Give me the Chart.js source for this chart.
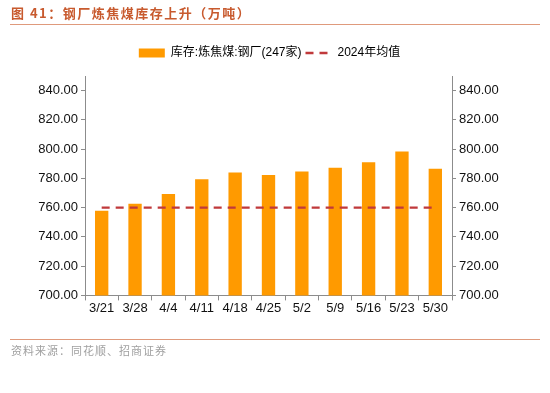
<!DOCTYPE html>
<html><head><meta charset="utf-8">
<script src="https://cdn.jsdelivr.net/npm/chart.js@4.4.1/dist/chart.umd.min.js"></script>
<style>
html,body{margin:0;padding:0;background:#fff;width:550px;height:393px;overflow:hidden;}
#wrap{position:absolute;left:0;top:0;width:550px;height:393px;}
#title{position:absolute;left:11px;top:3px;font-family:"Noto Sans CJK SC";font-weight:bold;font-size:13px;color:#C85A2E;letter-spacing:1.5px;}
#tline{position:absolute;left:10px;top:24px;width:530px;height:0;border-top:1.5px solid #DF9A7C;}
#fline{position:absolute;left:10px;top:339px;width:530px;height:0;border-top:1.5px solid #DF9A7C;}
#src{position:absolute;left:11px;top:342px;font-family:"Noto Sans CJK SC";font-size:11px;color:#a0a0a0;letter-spacing:1px;}
</style></head>
<body>
<div id="wrap"><canvas id="c" width="550" height="393"></canvas></div>
<div id="title">图 41：钢厂炼焦煤库存上升（万吨）</div>
<div id="tline"></div>
<div id="fline"></div>
<div id="src">资料来源：同花顺、招商证券</div>
<script>
const categories = ["3/21","3/28","4/4","4/11","4/18","4/25","5/2","5/9","5/16","5/23","5/30"];
const inventory = [757.8, 762.6, 769.4, 779.4, 784.1, 782.3, 784.7, 787.2, 791.1, 798.4, 786.6];
const avg2024 = [760, 760, 760, 760, 760, 760, 760, 760, 760, 760, 760];
const seriesNames = ["库存:炼焦煤:钢厂(247家)", "2024年均值"];
const yTicks = [700, 720, 740, 760, 780, 800, 820, 840];

const tickFont = {family: "Liberation Sans, Arial", size: 13};
const axisColor = "#8c8c8c";
function yAxis(pos){
  return {
    type: "linear", position: pos, min: 700, max: 850,
    afterBuildTicks: (s) => { s.ticks = yTicks.map(v => ({value: v})); },
    afterFit: (s) => { s.width = pos === "left" ? 50 : 52; },
    ticks: {font: tickFont, color: "#111", padding: 3, callback: v => Number(v).toFixed(2)},
    grid: {drawOnChartArea: false, drawTicks: true, tickLength: 4, color: axisColor},
    border: {display: true, color: axisColor, width: 1}
  };
}
const legendSpacer = {
  id: "legendSpacer",
  beforeInit(chart) {
    const origFit = chart.legend.fit;
    chart.legend.fit = function() { origFit.call(this); this.height += 7; };
  }
};
new Chart(document.getElementById("c"), {
  plugins: [legendSpacer],
  data: {
    labels: categories,
    datasets: [
      {type: "bar", label: seriesNames[0], data: inventory, backgroundColor: "#FF9A00", borderWidth: 0,
       categoryPercentage: 1, barPercentage: 0.4, order: 2, yAxisID: "y"},
      {type: "line", label: seriesNames[1], data: avg2024, borderColor: "#C0393B", borderWidth: 2.2,
       borderDash: [8, 6], pointRadius: 0, fill: false, order: 1, yAxisID: "y"}
    ]
  },
  options: {
    responsive: false, animation: false,
    layout: {padding: {left: 35, right: 46, top: 43, bottom: 77}},
    plugins: {
      tooltip: {enabled: false},
      legend: {
        display: true, position: "top",
        labels: {
          font: {family: "Liberation Sans, Noto Sans CJK SC", size: 12}, color: "#111",
          usePointStyle: true, pointStyleWidth: 26, boxHeight: 9, padding: 4,
          generateLabels: (chart) => chart.data.datasets.map((ds, i) => ({
            text: ds.label,
            fillStyle: i === 0 ? ds.backgroundColor : "rgba(0,0,0,0)",
            strokeStyle: i === 0 ? ds.backgroundColor : ds.borderColor,
            lineWidth: i === 0 ? 0 : 2.5,
            lineDash: i === 0 ? [] : [8, 6],
            pointStyle: i === 0 ? "rect" : "line",
            datasetIndex: i, hidden: false
          }))
        }
      }
    },
    scales: {
      x: {
        type: "category", offset: true,
        ticks: {font: tickFont, color: "#111", padding: 0, maxRotation: 0, autoSkip: false},
        grid: {drawOnChartArea: false, drawTicks: true, tickLength: 5, offset: true, color: axisColor},
        border: {display: true, color: axisColor, width: 1}
      },
      y: yAxis("left"),
      y2: yAxis("right")
    }
  }
});
</script>
</body></html>
